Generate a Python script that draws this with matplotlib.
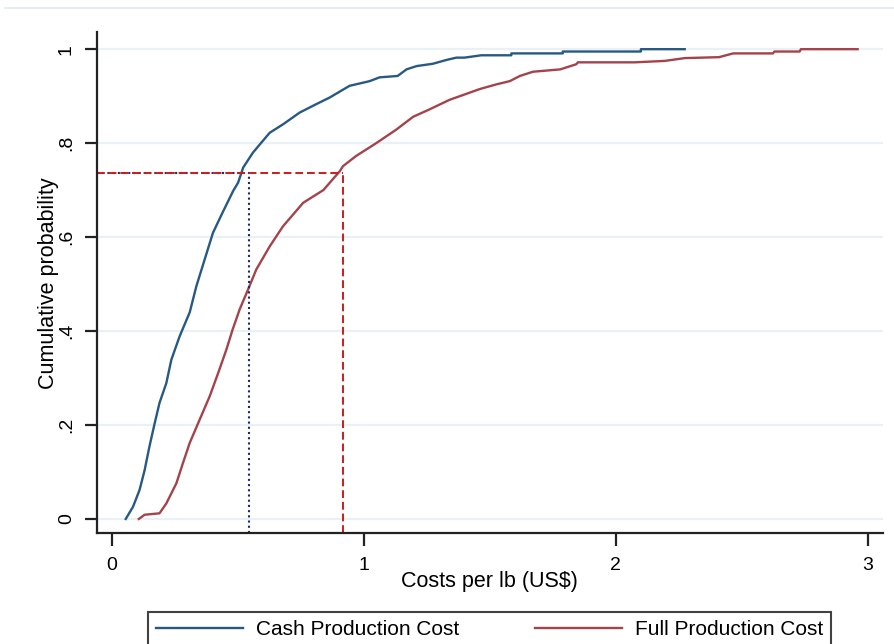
import matplotlib
matplotlib.use("Agg")
import matplotlib.pyplot as plt
from matplotlib.lines import Line2D

plt.rcParams['font.family'] = ['Liberation Sans', 'DejaVu Sans']

# ECDF of cash production cost (US$ per lb)
cash_x = [0.056, 0.085, 0.111, 0.131, 0.150, 0.171, 0.190, 0.217, 0.237, 0.270,
          0.310, 0.336, 0.369, 0.402, 0.440, 0.482, 0.502, 0.522, 0.561, 0.627,
          0.680, 0.746, 0.812, 0.865, 0.944, 1.024, 1.063, 1.135, 1.170, 1.210,
          1.275, 1.328, 1.368, 1.400, 1.467, 1.586, 1.586, 1.790, 1.790, 2.100,
          2.100, 2.274]
cash_y = [0.000, 0.026, 0.062, 0.104, 0.154, 0.204, 0.247, 0.289, 0.339, 0.389,
          0.440, 0.495, 0.552, 0.609, 0.652, 0.698, 0.716, 0.748, 0.780, 0.822,
          0.840, 0.865, 0.883, 0.897, 0.922, 0.932, 0.940, 0.943, 0.957, 0.964,
          0.969, 0.977, 0.982, 0.982, 0.987, 0.987, 0.991, 0.991, 0.995, 0.995,
          1.000, 1.000]

# ECDF of full production cost
full_x = [0.108, 0.131, 0.190, 0.217, 0.257, 0.283, 0.310, 0.349, 0.389, 0.423,
          0.455, 0.480, 0.508, 0.541, 0.574, 0.627, 0.680, 0.760, 0.840, 0.905,
          0.918, 0.971, 1.050, 1.130, 1.196, 1.262, 1.340, 1.460, 1.526, 1.580,
          1.620, 1.672, 1.780, 1.844, 1.850, 2.075, 2.194, 2.274, 2.410, 2.466,
          2.624, 2.630, 2.730, 2.735, 2.960]
full_y = [0.000, 0.009, 0.012, 0.033, 0.076, 0.119, 0.162, 0.211, 0.261, 0.311,
          0.360, 0.403, 0.446, 0.488, 0.531, 0.580, 0.623, 0.673, 0.700, 0.740,
          0.751, 0.773, 0.800, 0.829, 0.856, 0.872, 0.892, 0.915, 0.925, 0.932,
          0.943, 0.952, 0.957, 0.968, 0.972, 0.972, 0.975, 0.981, 0.983, 0.991,
          0.991, 0.995, 0.995, 1.000, 1.000]

# reference lines
ref_prob = 0.737
ref_cash = 0.545
ref_full = 0.918

yticks = [0, 0.2, 0.4, 0.6, 0.8, 1]
ytick_labels = ['0', '.2', '.4', '.6', '.8', '1']
xticks = [0, 1, 2, 3]

fig = plt.figure(figsize=(8.94, 6.44), dpi=100)
ax = fig.add_axes([0.1085, 0.1719, 0.879, 0.778])

xmin, xmax = -0.058, 3.06
ymin, ymax = -0.0305, 1.036

for yv in yticks:
    ax.axhline(yv, color='#eaf1f4', lw=1.6, zorder=0)

l1, = ax.plot(cash_x, cash_y, color='#285983', lw=1.7, label='Cash Production Cost')
l2, = ax.plot(full_x, full_y, color='#a3434b', lw=1.7, label='Full Production Cost')

ax.plot([xmin, ref_cash], [ref_prob, ref_prob], color='#1c2a6a', lw=1.5, ls=(0, (1, 1.5)))
ax.plot([ref_cash, ref_cash], [ymin, ref_prob], color='#1c2a6a', lw=1.5, ls=(0, (1, 1.5)))
ax.plot([xmin, ref_full], [ref_prob, ref_prob], color='#d01a1a', lw=1.4, ls=(0, (4, 2)))
ax.plot([ref_full, ref_full], [ymin, ref_prob], color='#d01a1a', lw=1.4, ls=(0, (4, 2)))

ax.set_xlim(xmin, xmax)
ax.set_ylim(ymin, ymax)
ax.set_xticks(xticks)
ax.set_xticklabels([str(v) for v in xticks])
ax.set_yticks(yticks)
ax.set_yticklabels(ytick_labels, rotation=90, va='center')

for s in ['top', 'right']:
    ax.spines[s].set_visible(False)
for s in ['left', 'bottom']:
    ax.spines[s].set_linewidth(1.6)
    ax.spines[s].set_color('#222222')

ax.tick_params(axis='both', direction='out', length=9, width=1.6, color='#222222',
               labelsize=14)
ax.tick_params(axis='x', pad=8)
ax.tick_params(axis='y', pad=7)
ax.set_xlabel('Costs per lb (US$)', fontsize=15.5, labelpad=-2)
ax.set_ylabel('Cumulative probability', fontsize=15.5, labelpad=-1)

leg = ax.legend(handles=[l1, l2], ncol=2, loc='upper left', mode='expand',
                bbox_to_anchor=(0.165, -0.03, 0.765, 0.08),
                bbox_transform=fig.transFigure, borderaxespad=0,
                fontsize=15, handlelength=4.2, handletextpad=0.6,
                frameon=True, fancybox=False, edgecolor='#111111')
leg.get_frame().set_linewidth(1.5)

# thin border line near the top of the image
fig.add_artist(Line2D([0.006, 1.0], [0.988, 0.988], transform=fig.transFigure,
                      color='#e6edf1', lw=1.5))

fig.savefig('out.png', dpi=100)
